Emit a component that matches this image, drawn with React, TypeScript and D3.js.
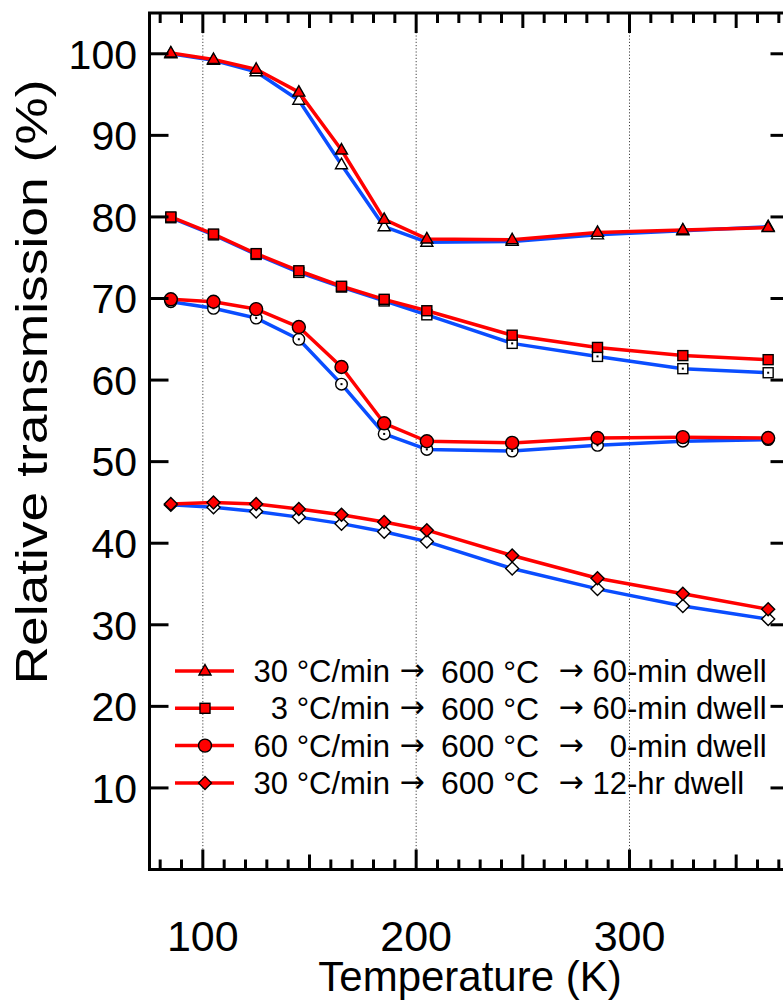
import React from 'react';
import * as d3 from 'd3';

// ---- data ----
const temps = [85, 105, 125, 145, 165, 185, 205, 245, 285, 325, 365];
const triRed = [100.1, 99.3, 98.1, 95.3, 88.2, 79.7, 77.3, 77.2, 78.1, 78.4, 78.7];
const triBlue = [100.0, 99.2, 97.8, 94.3, 86.4, 78.8, 76.9, 77.0, 77.8, 78.3, 78.8];
const sqRed = [80.0, 77.9, 75.5, 73.4, 71.5, 69.9, 68.5, 65.5, 64.0, 63.0, 62.5];
const sqBlue = [79.9, 77.8, 75.4, 73.2, 71.4, 69.7, 68.0, 64.5, 62.9, 61.4, 60.9];
const ciRed = [69.9, 69.6, 68.7, 66.5, 61.6, 54.7, 52.5, 52.3, 52.9, 53.0, 52.9];
const ciBlue = [69.6, 68.8, 67.6, 65.0, 59.5, 53.4, 51.5, 51.3, 52.0, 52.5, 52.7];
const diRed = [44.8, 45.0, 44.8, 44.2, 43.5, 42.6, 41.6, 38.5, 35.7, 33.8, 31.9];
const diBlue = [44.7, 44.4, 43.9, 43.2, 42.4, 41.4, 40.2, 36.9, 34.4, 32.3, 30.7];

const yTicks = [10, 20, 30, 40, 50, 60, 70, 80, 90, 100];
const xTicks = [100, 200, 300];
const legendRates = ['30 °C/min', '3 °C/min', '60 °C/min', '30 °C/min'];
const legendTemp = '600 °C';
const legendDwellNum = ['60', '60', '0', '12'];
const legendDwellRest = ['-min dwell', '-min dwell', '-min dwell', '-hr dwell'];
const legendShapes = ['triangle', 'square', 'circle', 'diamond'];

const seriesDefs = [
  { shape: 'triangle', red: triRed, blue: triBlue },
  { shape: 'square', red: sqRed, blue: sqBlue },
  { shape: 'circle', red: ciRed, blue: ciBlue },
  { shape: 'diamond', red: diRed, blue: diBlue },
];

const W = 783;
const H = 1000;
const FONT = '"Liberation Sans", Arial, Helvetica, sans-serif';
const ARROW_FONT = '"DejaVu Sans", sans-serif';
const RED = '#ff0000';
const BLUE = '#0a4dff';

const x = d3.scaleLinear().domain([75, 375]).range([149.5, 789.5]);
const y = d3.scaleLinear().domain([0, 105]).range([869.5, 13]);

function Marker({ shape, cx, cy, filled }: { shape: string; cx: number; cy: number; filled: boolean }) {
  const fill = filled ? RED : '#ffffff';
  const common = { fill, stroke: '#000', strokeWidth: 1.4 };
  let el: any = null;
  if (shape === 'triangle') {
    const s = 12, h = 10.5;
    el = <path d={`M${cx},${cy - h * 0.62}L${cx + s / 2},${cy + h * 0.38}L${cx - s / 2},${cy + h * 0.38}Z`} {...common} />;
  } else if (shape === 'square') {
    el = <rect x={cx - 5} y={cy - 5} width={10} height={10} {...common} />;
  } else if (shape === 'circle') {
    el = <circle cx={cx} cy={cy} r={filled ? 6.5 : 5.8} {...common} />;
  } else {
    const r = 6.5;
    el = <path d={`M${cx},${cy - r}L${cx + r},${cy}L${cx},${cy + r}L${cx - r},${cy}Z`} {...common} />;
  }
  const dot = !filled && (shape === 'square' || shape === 'circle')
    ? <rect x={cx - 1} y={cy - 1} width={2} height={2} fill="#000" /> : null;
  return <g>{el}{dot}</g>;
}

export default function App() {
  const line = d3.line<number>().x((_, i) => x(temps[i])).y((d) => y(d));
  const minorX = d3.range(80, 380, 10);
  return (
    <svg width={W} height={H} style={{ position: 'absolute', left: 0, top: 0, background: '#fff' }} fontFamily={FONT}>
      <rect x={0} y={0} width={W} height={H} fill="#fff" />
      {/* grid */}
      {xTicks.map((t) => (
        <line key={'g' + t} x1={x(t)} x2={x(t)} y1={y(105)} y2={y(0)} stroke="#444" strokeWidth={1} strokeDasharray="1.2,2" />
      ))}
      {/* series */}
      {seriesDefs.map((s) => (
        <g key={s.shape}>
          <path d={line(s.blue) || ''} fill="none" stroke={BLUE} strokeWidth={3.5} strokeLinejoin="round" />
          {s.blue.map((v, i) => <Marker key={i} shape={s.shape} cx={x(temps[i])} cy={y(v)} filled={false} />)}
          <path d={line(s.red) || ''} fill="none" stroke={RED} strokeWidth={3.5} strokeLinejoin="round" />
          {s.red.map((v, i) => <Marker key={i} shape={s.shape} cx={x(temps[i])} cy={y(v)} filled={true} />)}
        </g>
      ))}
      {/* frame */}
      <rect x={x(75)} y={y(105)} width={x(375) - x(75)} height={y(0) - y(105)} fill="none" stroke="#000" strokeWidth={3} />
      {/* y ticks */}
      {yTicks.map((t) => (
        <g key={'y' + t}>
          <line x1={x(75)} x2={x(75) + 19} y1={y(t)} y2={y(t)} stroke="#000" strokeWidth={3} />
          <line x1={x(375)} x2={x(375) - 19} y1={y(t)} y2={y(t)} stroke="#000" strokeWidth={3} />
          <text x={137} y={y(t)} dy="0.36em" textAnchor="end" fontSize={41}>{t}</text>
        </g>
      ))}
      {/* x ticks */}
      {minorX.map((t) => {
        const len = t % 100 === 0 ? 20 : t % 50 === 0 ? 15 : 10;
        return (
          <g key={'x' + t}>
            <line x1={x(t)} x2={x(t)} y1={y(0)} y2={y(0) - len} stroke="#000" strokeWidth={3} />
            <line x1={x(t)} x2={x(t)} y1={y(105)} y2={y(105) + len} stroke="#000" strokeWidth={3} />
          </g>
        );
      })}
      {xTicks.map((t) => (
        <text key={'xl' + t} x={x(t)} y={951} textAnchor="middle" fontSize={43}>{t}</text>
      ))}
      {/* titles */}
      <text x={470} y={991} textAnchor="middle" fontSize={42}>Temperature (K)</text>
      <text transform={`translate(47,382) rotate(-90)`} textAnchor="middle" fontSize={44}
        textLength={605} lengthAdjust="spacingAndGlyphs">Relative transmission (%)</text>
      {/* legend */}
      {legendShapes.map((sh, i) => {
        const cy = 671 + i * 37.3;
        return (
          <g key={'lg' + i}>
            <line x1={175} x2={234} y1={cy} y2={cy} stroke={RED} strokeWidth={3.5} />
            <Marker shape={sh} cx={205} cy={cy} filled={true} />
            <text x={390} y={cy} dy="0.36em" textAnchor="end" fontSize={31}>{legendRates[i]}</text>
            <text x={412} y={cy} dy="0.3em" textAnchor="middle" fontSize={30} fontFamily={ARROW_FONT}>→</text>
            <text x={441} y={cy} dy="0.36em" fontSize={32}>{legendTemp}</text>
            <text x={571} y={cy} dy="0.3em" textAnchor="middle" fontSize={30} fontFamily={ARROW_FONT}>→</text>
            <text x={627} y={cy} dy="0.36em" textAnchor="end" fontSize={31}>{legendDwellNum[i]}</text>
            <text x={627} y={cy} dy="0.36em" fontSize={31}>{legendDwellRest[i]}</text>
          </g>
        );
      })}
    </svg>
  );
}
